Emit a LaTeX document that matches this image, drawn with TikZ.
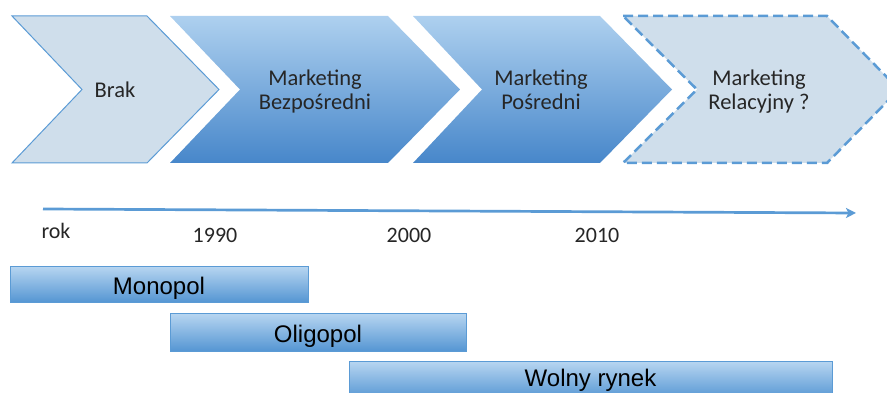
\documentclass[tikz,border=0pt]{standalone}
\usepackage{fontspec}
\setmainfont{Carlito}
\newfontfamily\arialf{Liberation Sans}
\usetikzlibrary{arrows.meta}
\definecolor{edgeblue}{HTML}{5B9BD5}
\definecolor{lightfill}{HTML}{CFDEEB}
\definecolor{gradtop}{HTML}{AED0EF}
\definecolor{gradbot}{HTML}{4787CA}
\definecolor{bartop}{HTML}{B8D6F1}
\definecolor{barbot}{HTML}{5596D3}
\definecolor{txt}{HTML}{262626}
\tikzset{
  chevlight/.style={fill=lightfill, draw=edgeblue, line width=1pt, line join=miter},
  chevdark/.style={top color=gradtop, bottom color=gradbot, draw=none},
  chevdash/.style={fill=lightfill, draw=edgeblue, line width=2.5pt, dash pattern=on 10pt off 5pt},
  chevtext/.style={font=\fontsize{22.5}{24}\selectfont, text=txt, anchor=base, inner sep=0pt},
  yeartext/.style={font=\fontsize{22}{24}\selectfont, text=txt, anchor=base, inner sep=0pt},
  bar/.style={top color=bartop, bottom color=barbot, draw=edgeblue, line width=0.8pt,
    font=\arialf\fontsize{24}{26}\selectfont, text=black, inner sep=0pt,
    text height=20pt, text depth=0pt}
}
\tikzset{
  tline/.style={draw=edgeblue, line width=2.7pt, -{Stealth[length=10pt,width=10pt,inset=2.5pt]}}
}
\begin{document}
\begin{tikzpicture}[x=1pt,y=-1pt]
\useasboundingbox (0,0) rectangle (887,393);
\clip (0,0) rectangle (887,393);
% chevrons
\path[chevlight] (12,16) -- (147,16) -- (219,89.5) -- (147,163) -- (12,163) -- (82,89.5) -- cycle;
\path[chevdark] (170,16) -- (388,16) -- (460,89.5) -- (388,163) -- (170,163) -- (240,89.5) -- cycle;
\path[chevdark] (413,16) -- (600,16) -- (672,89.5) -- (600,163) -- (413,163) -- (482,89.5) -- cycle;
\path[chevdash] (623,16) -- (827,16) -- (899,89.5) -- (827,163) -- (623,163) -- (697,89.5) -- cycle;
\node[chevtext] (brak) at (115,98) {Brak};
\node[chevtext] (bezpA) at (315,86) {Marketing};
\node[chevtext] (bezpB) at (315,110) {Bezpośredni};
\node[chevtext] (posrA) at (541,86) {Marketing};
\node[chevtext] (posrB) at (541,110) {Pośredni};
\node[chevtext] (relA) at (759,86) {Marketing};
\node[chevtext] (relB) at (759,110) {Relacyjny ?};
% timeline
\coordinate (t0) at (43,209);
\coordinate (t1) at (856,213);
\draw[tline] (t0) -- (t1);
\node[yeartext] (rok) at (56,239) {rok};
\node[yeartext] (y1990) at (215,242) {1990};
\node[yeartext] (y2000) at (409,242) {2000};
\node[yeartext] (y2010) at (597,242) {2010};
% bars
\node[bar, minimum width=298, minimum height=36] (mono) at (159,284) {Monopol};
\node[bar, minimum width=296, minimum height=38] (oligo) at (318,332) {Oligopol};
\node[bar, minimum width=483, minimum height=38, text height=12pt] (wolny) at (590.5,380) {Wolny rynek};
\end{tikzpicture}
\end{document}
